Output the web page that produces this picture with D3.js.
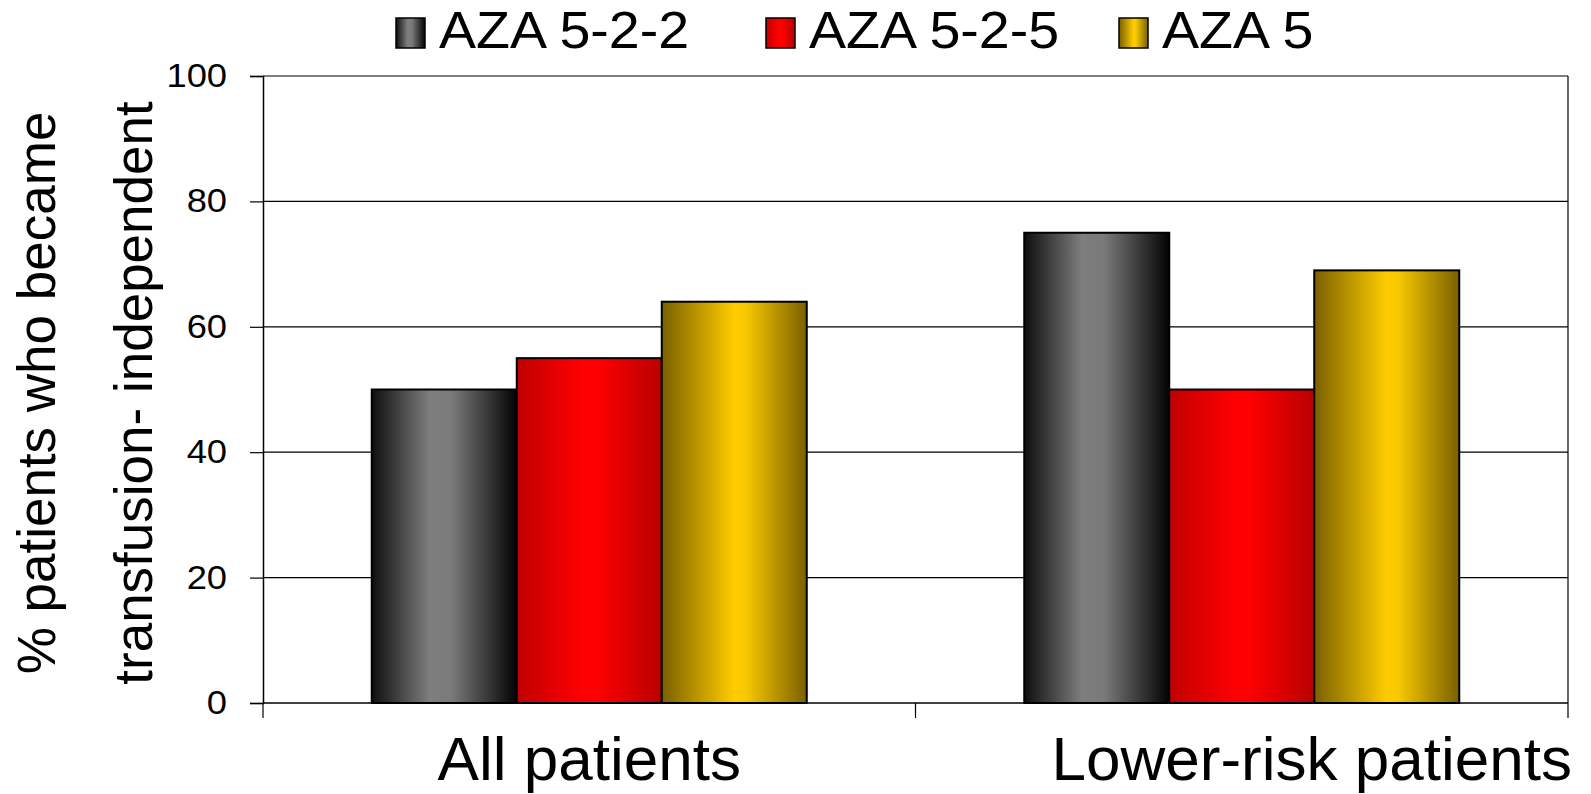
<!DOCTYPE html>
<html><head><meta charset="utf-8">
<script src="https://cdn.jsdelivr.net/npm/d3@7"></script>
<style>html,body{margin:0;padding:0;background:#fff;overflow:hidden}</style>
</head><body>
<svg id="chart" width="1591" height="794"></svg>
<script>
const categories = ["All patients", "Lower-risk patients"];
const seriesNames = ["AZA 5-2-2", "AZA 5-2-5", "AZA 5"];
const aza522 = [50, 75];
const aza525 = [55, 50];
const aza5 = [64, 69];
const yTicks = [0, 20, 40, 60, 80, 100];
const yLabelLines = ["% patients who became", "transfusion- independent"];

const seriesValues = [aza522, aza525, aza5];
const gradStops = [
  [["0%", "#0e0e0e"], ["40%", "#7e7e7e"], ["55%", "#7a7a7a"], ["100%", "#030303"]],
  [["0%", "#c00000"], ["45%", "#ff0000"], ["55%", "#ff0000"], ["100%", "#b80000"]],
  [["0%", "#7a6000"], ["50%", "#ffcc00"], ["58%", "#f8c800"], ["100%", "#7a6000"]]
];

const svg = d3.select("#chart");
const m = {left: 263, right: 1568, top: 76, bottom: 703};
const font = "'Liberation Sans', Arial, sans-serif";

const defs = svg.append("defs");
gradStops.forEach((stops, i) => {
  const g = defs.append("linearGradient").attr("id", "g" + i)
    .attr("x1", "0%").attr("x2", "100%").attr("y1", "0%").attr("y2", "0%");
  stops.forEach(s => g.append("stop").attr("offset", s[0]).attr("stop-color", s[1]));
});

const x0 = d3.scaleBand().domain(categories).range([m.left, m.right]).paddingInner(0).paddingOuter(0);
const x1 = d3.scaleBand().domain(seriesNames).range([0, x0.bandwidth()]).paddingOuter(0.75).paddingInner(0);
const y = d3.scaleLinear().domain([0, 100]).range([m.bottom, m.top]);

// gridlines
svg.append("g").selectAll("line").data(yTicks.filter(t => t > 0)).join("line")
  .attr("x1", m.left).attr("x2", m.right)
  .attr("y1", d => y(d)).attr("y2", d => y(d))
  .attr("stroke", "#000").attr("stroke-width", 1.2);
// right border
svg.append("line").attr("x1", m.right).attr("x2", m.right).attr("y1", m.top).attr("y2", m.bottom)
  .attr("stroke", "#000").attr("stroke-width", 1.2);

// bars
const groups = svg.append("g").selectAll("g").data(categories).join("g")
  .attr("transform", d => `translate(${x0(d)},0)`);
groups.selectAll("rect").data((c, ci) => seriesNames.map((s, si) => ({s, si, v: seriesValues[si][ci]})))
  .join("rect")
  .attr("x", d => x1(d.s)).attr("width", x1.bandwidth())
  .attr("y", d => y(d.v)).attr("height", d => y(0) - y(d.v))
  .attr("fill", d => `url(#g${d.si})`)
  .attr("stroke", "#000").attr("stroke-width", 2);

// y axis
const tickLen = 13, tickPad = 23;
const yAxis = d3.axisLeft(y).tickValues(yTicks).tickSize(tickLen).tickPadding(tickPad);
const ya = svg.append("g").attr("transform", `translate(${m.left},0)`).call(yAxis);
ya.select(".domain").attr("stroke", "#000").attr("stroke-width", 1.5);
ya.selectAll(".tick line").attr("stroke", "#000").attr("stroke-width", 1.2);
ya.selectAll(".tick text").attr("font-family", font).attr("font-size", 33).attr("fill", "#000")
  .attr("x", 0).attr("transform", `translate(${-(tickLen + tickPad)},0) scale(1.1,1)`);

// x axis
svg.append("line").attr("x1", m.left).attr("x2", m.right).attr("y1", m.bottom).attr("y2", m.bottom)
  .attr("stroke", "#000").attr("stroke-width", 1.5);
const boundaries = [m.left].concat(categories.map(c => x0(c) + x0.bandwidth()));
svg.append("g").selectAll("line").data(boundaries).join("line")
  .attr("x1", d => d).attr("x2", d => d).attr("y1", m.bottom).attr("y2", m.bottom + 15)
  .attr("stroke", "#000").attr("stroke-width", 1.2);
const xLabelShift = [0, 70];
svg.append("g").selectAll("text").data(categories).join("text")
  .attr("x", (d, i) => x0(d) + x0.bandwidth() / 2 + xLabelShift[i])
  .attr("y", 780).attr("text-anchor", "middle")
  .attr("font-family", font).attr("font-size", 62).attr("fill", "#000")
  .text(d => d);

// y label
const yLabelX = [55, 152];
svg.append("g").selectAll("text").data(yLabelLines).join("text")
  .attr("transform", (d, i) => `translate(${yLabelX[i]},393) rotate(-90)`)
  .attr("text-anchor", "middle")
  .attr("font-family", font).attr("font-size", 53).attr("fill", "#000")
  .text(d => d);

// legend
const legendX = [396, 766, 1119];
const lg = svg.append("g").selectAll("g").data(seriesNames).join("g")
  .attr("transform", (d, i) => `translate(${legendX[i]},0)`);
lg.append("rect").attr("x", 0).attr("y", 18).attr("width", 29).attr("height", 30)
  .attr("fill", (d, i) => `url(#g${i})`).attr("stroke", "#000").attr("stroke-width", 1.5);
lg.append("text").attr("transform", "translate(43,48) scale(1.09,1)")
  .attr("font-family", font).attr("font-size", 51).attr("fill", "#000")
  .text(d => d);
</script>
</body></html>
